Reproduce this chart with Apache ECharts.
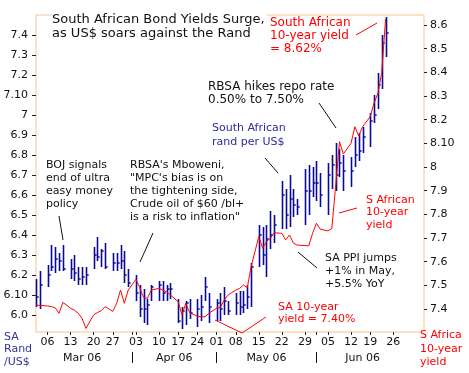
<!DOCTYPE html>
<html><head><meta charset="utf-8">
<script src="https://cdn.jsdelivr.net/npm/echarts@6/dist/echarts.min.js"></script>
<style>html,body{margin:0;padding:0;background:#fff}#c{width:469px;height:373px}</style>
</head><body><div id="c"></div>
<script>
// x-axis slots: trading days plus one slot per weekend (Saturday date), through early July
const axisDays = [
'03-02','03-03','03-04',
'03-06','03-07','03-08','03-09','03-10','03-11',
'03-13','03-14','03-15','03-16','03-17','03-18',
'03-20','03-22','03-23','03-24','03-25',
'03-27','03-28','03-29','03-30','03-31','04-01',
'04-03','04-04','04-05','04-06','04-07','04-08',
'04-10','04-11','04-12','04-13','04-15',
'04-18','04-19','04-20','04-21','04-22',
'04-24','04-25','04-26','04-28','04-29',
'05-02','05-03','05-04','05-05','05-06',
'05-08','05-09','05-10','05-11','05-12','05-13',
'05-15','05-16','05-17','05-18','05-19','05-20',
'05-22','05-23','05-24','05-25','05-26','05-27',
'05-29','05-30','05-31','06-01','06-02','06-03',
'06-05','06-06','06-07','06-08','06-09','06-10',
'06-12','06-13','06-14','06-15','06-17',
'06-19','06-20','06-21','06-22','06-23','06-24',
'06-26','06-27','06-28','06-29','06-30','07-01',
'07-03','07-04','07-05'];

const tradeDates = [
'03-02','03-03',
'03-06','03-07','03-08','03-09','03-10',
'03-13','03-14','03-15','03-16','03-17',
'03-20','03-22','03-23','03-24',
'03-27','03-28','03-29','03-30','03-31',
'04-03','04-04','04-05','04-06','04-07',
'04-10','04-11','04-12','04-13',
'04-18','04-19','04-20','04-21',
'04-24','04-25','04-26','04-28',
'05-02','05-03','05-04','05-05',
'05-08','05-09','05-10','05-11','05-12',
'05-15','05-16','05-17','05-18','05-19',
'05-22','05-23','05-24','05-25','05-26',
'05-29','05-30','05-31','06-01','06-02',
'06-05','06-06','06-07','06-08','06-09',
'06-12','06-13','06-14','06-15',
'06-19','06-20','06-21','06-22','06-23'];

// SA rand per US$ : high / low / close
const randHigh = [
6.18,6.22,
6.25,6.35,6.34,6.31,6.35,
6.28,6.30,6.24,6.24,6.24,
6.34,6.39,6.33,6.36,
6.31,6.31,6.35,6.32,6.23,
6.20,6.15,6.13,6.08,6.15,
6.17,6.17,6.15,6.16,
6.08,6.04,6.07,6.08,
6.08,6.10,6.19,6.11,
6.08,6.11,6.14,6.07,
6.11,6.12,6.12,6.15,6.26,
6.45,6.44,6.45,6.52,6.50,
6.67,6.63,6.70,6.63,6.58,
6.73,6.75,6.74,6.77,6.71,
6.76,6.80,6.86,6.83,6.80,
6.79,6.89,6.91,6.94,
7.01,7.10,7.21,7.40,7.49];
const randLow = [
6.04,6.03,
6.14,6.22,6.21,6.22,6.22,
6.18,6.17,6.15,6.15,6.15,
6.23,6.27,6.24,6.23,
6.22,6.22,6.23,6.16,6.14,
6.07,5.99,5.96,5.95,6.07,
6.07,6.07,6.07,6.08,
5.96,5.93,5.95,5.98,
5.94,5.97,6.07,5.96,
5.97,5.97,6.00,6.00,
6.00,6.00,6.01,6.03,6.04,
6.24,6.25,6.19,6.33,6.36,
6.43,6.43,6.44,6.49,6.50,
6.45,6.50,6.59,6.57,6.54,
6.50,6.63,6.62,6.69,6.62,
6.64,6.74,6.77,6.81,
6.84,6.96,7.03,7.13,7.29];
const randClose = [
6.09,6.15,
6.20,6.24,6.28,6.27,6.23,
6.23,6.21,6.18,6.19,6.20,
6.30,6.29,6.32,6.24,
6.26,6.26,6.27,6.20,6.16,
6.11,6.03,6.03,6.05,6.14,
6.15,6.11,6.13,6.13,
5.97,6.02,6.06,6.01,
6.03,6.04,6.14,6.04,
6.06,6.03,6.07,6.02,
6.06,6.04,6.05,6.09,6.24,
6.40,6.30,6.38,6.40,6.45,
6.60,6.50,6.58,6.55,6.54,
6.62,6.62,6.66,6.66,6.60,
6.70,6.75,6.70,6.76,6.72,
6.72,6.80,6.82,6.89,
6.97,7.00,7.15,7.36,7.41];
// SA 10-year yield (%)
const yieldPct = [
7.417,7.415,
7.413,7.410,7.405,7.382,7.428,
7.403,7.395,7.382,7.360,7.318,
7.375,7.385,7.393,7.410,
7.390,7.424,7.480,7.424,7.480,
7.525,7.490,7.449,7.445,7.480,
7.487,7.480,7.473,7.459,
7.431,7.375,7.424,7.384,
7.370,7.367,7.367,7.382,
7.403,7.407,7.438,7.459,
7.480,7.487,7.501,7.490,7.579,
7.706,7.656,7.685,7.699,7.722,
7.720,7.692,7.713,7.678,7.670,
7.668,7.667,7.720,7.762,7.737,
7.730,7.740,7.920,8.107,8.055,
8.100,8.170,8.131,8.170,
8.213,8.270,8.311,8.400,8.625];

const leftTickValues = [6.0,6.1,6.2,6.3,6.4,6.5,6.6,6.7,6.8,6.9,7.0,7.1,7.2,7.3,7.4];
const leftTickLabels = ['6.0','6.10','6.2','6.3','6.4','6.5','6.6','6.7','6.8','6.9','7','7.10','7.2','7.3','7.4'];
const rightTickValues = [7.4,7.5,7.6,7.7,7.8,7.9,8.0,8.1,8.2,8.3,8.4,8.5,8.6];
const rightTickLabels = ['7.4','7.5','7.6','7.7','7.8','7.9','8','8.10','8.2','8.3','8.4','8.5','8.6'];
const weekTickDates = ['03-06','03-13','03-20','03-27','04-03','04-10','04-18','04-24','05-02','05-08','05-15','05-22','05-29','06-05','06-12','06-19','06-26'];
const weekTickLabels = ['06','13','20','27','03','10','17','24','01','08','15','22','29','05','12','19','26'];
const monthSepDates = ['04-01','05-02','06-01'];
const monthLabelDates = ['03-16','04-15','05-17','06-15'];
const monthLabels = ['Mar 06','Apr 06','May 06','Jun 06'];

const FONT = 'DejaVu Sans';
const FRAME = '#F9C48E';
const BLUE = '#0a0a96';

const hlcData = tradeDates.map((d, i) => [axisDays.indexOf(d), randHigh[i], randLow[i], randClose[i]]);
const yieldData = tradeDates.map((d, i) => [axisDays.indexOf(d), yieldPct[i]]);

function lookupNum(vals, labels) {
  return v => { const i = vals.findIndex(t => Math.abs(t - v) < 1e-6); return i >= 0 ? labels[i] : ''; };
}
function lookupCat(keys, labels) {
  return v => { const i = keys.indexOf(String(v)); return i >= 0 ? labels[i] : ''; };
}
const weekSet = new Set(weekTickDates);
const tickSet = new Set(weekTickDates.concat(monthSepDates));
const sepSet = new Set(monthSepDates);
const monSet = new Set(monthLabelDates);

const chart = echarts.init(document.getElementById('c'), null, {renderer: 'canvas'});
const txt = (x, y, text, color, size, lh, extra) => ({
  type: 'text', x: x, y: y, z: 100,
  style: Object.assign({text: text, fill: color, font: size + 'px "' + FONT + '"', lineHeight: lh, textVerticalAlign: 'top'}, extra || {})
});
const ln = (x1, y1, x2, y2, color) => ({type: 'line', z: 100, shape: {x1, y1, x2, y2}, style: {stroke: color, lineWidth: 1}});

chart.setOption({
  animation: false,
  textStyle: {fontFamily: FONT},
  grid: {left: 36, right: 45, top: 15, bottom: 41, show: true, borderColor: FRAME, borderWidth: 1, backgroundColor: 'transparent'},
  xAxis: [{
    type: 'category', data: axisDays, boundaryGap: false, position: 'bottom',
    axisLine: {show: false},
    axisTick: {show: true, length: 3, interval: (i, v) => tickSet.has(v), lineStyle: {color: '#222'}},
    axisLabel: {show: true, interval: (i, v) => weekSet.has(v), formatter: lookupCat(weekTickDates, weekTickLabels), color: '#111', fontSize: 11, margin: 5, hideOverlap: false},
    splitLine: {show: false}
  }, {
    type: 'category', data: axisDays, boundaryGap: false, position: 'bottom', offset: 20,
    axisLine: {show: false},
    axisTick: {show: true, length: 11, interval: (i, v) => sepSet.has(v), lineStyle: {color: '#111'}},
    axisLabel: {show: true, interval: (i, v) => monSet.has(v), formatter: lookupCat(monthLabelDates, monthLabels), color: '#111', fontSize: 11, margin: 1, hideOverlap: false},
    splitLine: {show: false}
  }],
  yAxis: [{
    type: 'value', min: 5.915, max: 7.5, position: 'left',
    axisLine: {show: false},
    axisTick: {show: true, length: 4, customValues: leftTickValues, lineStyle: {color: '#222'}},
    axisLabel: {customValues: leftTickValues, formatter: lookupNum(leftTickValues, leftTickLabels), color: '#111', fontSize: 11, margin: 8},
    splitLine: {show: false}
  }, {
    type: 'value', min: 7.3028, max: 8.6423, position: 'right',
    axisLine: {show: false},
    axisTick: {show: true, length: 3, customValues: rightTickValues, lineStyle: {color: '#222'}},
    axisLabel: {customValues: rightTickValues, formatter: lookupNum(rightTickValues, rightTickLabels), color: '#111', fontSize: 11, margin: 6},
    splitLine: {show: false}
  }],
  series: [{
    type: 'custom', xAxisIndex: 0, yAxisIndex: 0, data: hlcData,
    encode: {x: 0, y: [1, 2, 3]},
    renderItem: (params, api) => {
      const xi = api.value(0);
      const hi = api.coord([xi, api.value(1)]);
      const lo = api.coord([xi, api.value(2)]);
      const cl = api.coord([xi, api.value(3)]);
      const x = Math.round(hi[0]) + 0.5;
      return {type: 'group', children: [
        {type: 'line', shape: {x1: x, y1: hi[1], x2: x, y2: lo[1]}, style: {stroke: BLUE, lineWidth: 1.6}},
        {type: 'line', shape: {x1: x, y1: cl[1], x2: x + 2.2, y2: cl[1]}, style: {stroke: BLUE, lineWidth: 1.4}}
      ]};
    }
  }, {
    type: 'line', xAxisIndex: 0, yAxisIndex: 1, data: yieldData, showSymbol: false, symbol: 'none',
    lineStyle: {color: '#ff0000', width: 1}, z: 3
  }],
  graphic: [
    txt(52, 12, 'South African Bond Yields Surge,\nas US$ soars against the Rand', '#111', 13, 14, {backgroundColor: '#fff', padding: [1, 2, 1, 0]}),
    txt(270, 16.5, 'South African\n10-year yield\n= 8.62%', '#ff0000', 12, 13),
    ln(356, 35, 377, 23, '#ff0000'),
    txt(208, 80, 'RBSA hikes repo rate\n0.50% to 7.50%', '#111', 12, 13.5),
    ln(319, 103, 336, 128, '#111'),
    txt(212, 121, 'South African\nrand per US$', '#2b2b9e', 11, 14),
    ln(265, 158, 278, 173, '#111'),
    txt(46, 158.5, 'BOJ signals\nend of ultra\neasy money\npolicy', '#111', 11, 13),
    ln(59, 216, 63, 240, '#111'),
    txt(130, 158.5, 'RBSA\'s Mboweni,\n"MPC\'s bias is on\nthe tightening side,\nCrude oil of $60 /bl+\nis a risk to inflation"', '#111', 11, 13),
    ln(153, 233, 140, 262, '#111'),
    txt(366, 193.5, 'S African\n10-year\nyield', '#ff0000', 11, 12.5),
    ln(339, 213, 357, 208, '#ff0000'),
    txt(325, 251.5, 'SA PPI jumps\n+1% in May,\n+5.5% YoY', '#111', 11, 13),
    ln(298, 252, 317, 268, '#111'),
    txt(278, 300.5, 'SA 10-year\nyield = 7.40%', '#ff0000', 11, 12.5),
    {type: 'polyline', z: 100, shape: {points: [[215, 320], [242, 333], [266, 317]]}, style: {stroke: '#ff0000', lineWidth: 1, fill: null}},
    txt(4, 330.5, 'SA\nRand\n/US$', '#333399', 11, 12.5),
    txt(420, 328.5, 'S Africa\n10-year\nyield', '#ff0000', 11, 13.5)
  ]
});
</script></body></html>
